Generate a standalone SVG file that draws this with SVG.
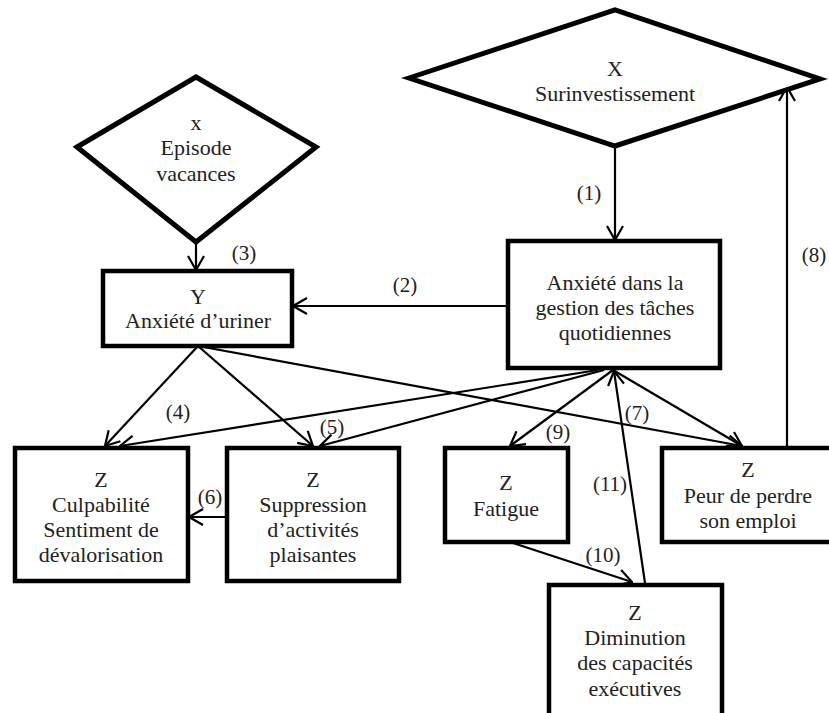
<svg xmlns="http://www.w3.org/2000/svg" width="829" height="713" viewBox="0 0 829 713">
<style>
.node{fill:#fff;stroke:#000;stroke-width:4.5;stroke-linejoin:miter}
.dia{fill:#fff;stroke:#000;stroke-width:5;stroke-linejoin:miter}
.c{stroke:#000;stroke-width:2.2;fill:none}
</style>
<defs>
<marker id="a" markerUnits="userSpaceOnUse" markerWidth="16" markerHeight="18" viewBox="0 0 16 18" refX="15" refY="9" orient="auto">
<path d="M1,1 L15,9 L1,17" fill="none" stroke="#000" stroke-width="2.2"/>
</marker>
</defs>
<rect width="829" height="713" fill="#fff"/>

<g id="connectors">
<line class="c" x1="615" y1="146" x2="615" y2="240" marker-end="url(#a)"/>
<line class="c" x1="508" y1="306" x2="293" y2="306" marker-end="url(#a)"/>
<line class="c" x1="196" y1="242" x2="196" y2="270" marker-end="url(#a)"/>
<line class="c" x1="198" y1="346" x2="105" y2="446" marker-end="url(#a)"/>
<line class="c" x1="198" y1="346" x2="313" y2="446" marker-end="url(#a)"/>
<line class="c" x1="198" y1="346" x2="742" y2="446" marker-end="url(#a)"/>
<line class="c" x1="598" y1="370" x2="120" y2="446" marker-end="url(#a)"/>
<line class="c" x1="604" y1="370" x2="320" y2="446" marker-end="url(#a)"/>
<line class="c" x1="613" y1="370" x2="510" y2="446" marker-end="url(#a)"/>
<line class="c" x1="613" y1="370" x2="742" y2="446" marker-end="url(#a)"/>
<line class="c" x1="513" y1="543" x2="632" y2="582" marker-end="url(#a)"/>
<line class="c" x1="645" y1="583" x2="614" y2="371" marker-end="url(#a)"/>
<line class="c" x1="787" y1="446" x2="787" y2="87" marker-end="url(#a)"/>
<line class="c" x1="227" y1="517" x2="189" y2="517" marker-end="url(#a)"/>
<g font-family="Liberation Serif, Times New Roman, serif" font-size="21" fill="#222" text-anchor="middle">
<text x="589" y="200">(1)</text>
<text x="405" y="292">(2)</text>
<text x="244" y="260">(3)</text>
<text x="178" y="419">(4)</text>
<text x="332" y="434">(5)</text>
<text x="210" y="504">(6)</text>
<text x="637" y="420">(7)</text>
<text x="814" y="262">(8)</text>
<text x="558" y="439">(9)</text>
<text x="603" y="562">(10)</text>
<text x="610" y="491">(11)</text>
</g>
</g>

<g font-family="Liberation Serif, Times New Roman, serif" font-size="22" fill="#222" text-anchor="middle">
<g id="n-surinvestissement">
<polygon class="dia" points="409,78 615,10 820,79 615,146"/>
<text x="615" y="76">X</text>
<text x="615" y="101">Surinvestissement</text>
</g>

<g id="n-episode">
<polygon class="dia" points="77,147 196,77 316,147 196,242"/>
<text x="196" y="130">x</text>
<text x="196" y="155">Episode</text>
<text x="196" y="181">vacances</text>
</g>

<g id="n-anxiete-uriner">
<rect class="node" x="103" y="271" width="189" height="75"/>
<text x="198" y="304">Y</text>
<text x="198" y="328">Anxiété d’uriner</text>
</g>

<g id="n-anxiete-gestion">
<rect class="node" x="508" y="241" width="212" height="127"/>
<text x="615" y="290">Anxiété dans la</text>
<text x="615" y="315">gestion des tâches</text>
<text x="615" y="340">quotidiennes</text>
</g>

<g id="n-culpabilite">
<rect class="node" x="15" y="448" width="173" height="133"/>
<text x="101" y="487">Z</text>
<text x="101" y="512">Culpabilité</text>
<text x="101" y="537">Sentiment de</text>
<text x="101" y="562">dévalorisation</text>
</g>

<g id="n-suppression">
<rect class="node" x="227" y="448" width="172" height="133"/>
<text x="313" y="487">Z</text>
<text x="313" y="512">Suppression</text>
<text x="313" y="537">d’activités</text>
<text x="313" y="562">plaisantes</text>
</g>

<g id="n-fatigue">
<rect class="node" x="445" y="448" width="123" height="94"/>
<text x="506" y="490">Z</text>
<text x="506" y="516">Fatigue</text>
</g>

<g id="n-peur">
<rect class="node" x="662" y="448" width="175" height="94"/>
<text x="748" y="477">Z</text>
<text x="748" y="503">Peur de perdre</text>
<text x="748" y="528">son emploi</text>
</g>

<g id="n-diminution">
<rect class="node" x="549" y="585" width="173" height="140"/>
<text x="635" y="620">Z</text>
<text x="635" y="645">Diminution</text>
<text x="635" y="670">des capacités</text>
<text x="635" y="696">exécutives</text>
</g>
</g>
</svg>
